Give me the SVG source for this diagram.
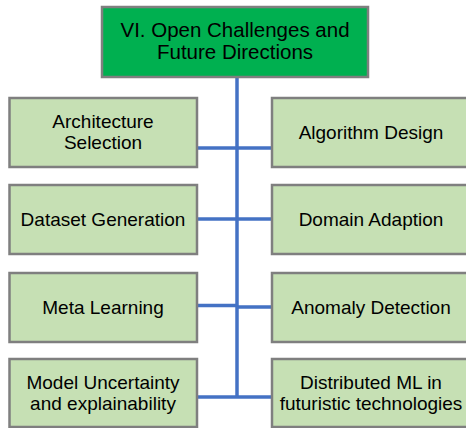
<svg xmlns="http://www.w3.org/2000/svg" width="466" height="428" viewBox="0 0 466 428">
<style>
.box{fill:#C6E0B4;stroke:#7F7F7F;stroke-width:2.5}
.top{fill:#00B050;stroke:#7F7F7F;stroke-width:2.5}
.t{font-family:"Liberation Sans",Arial,sans-serif;font-size:19px;fill:#000;text-anchor:middle}
.tt{font-family:"Liberation Sans",Arial,sans-serif;font-size:20.5px;fill:#000;text-anchor:middle}
.c{stroke:#4472C4;stroke-width:3.5;fill:none}
</style>
<rect width="466" height="428" fill="#fff"/>
<g id="connectors">
<path class="c" d="M237 77 V397"/>
<path class="c" d="M197 148 H272"/>
<path class="c" d="M197 219 H272"/>
<path class="c" d="M197 305.5 H237 M237 307 H272"/>
<path class="c" d="M197 397 H272"/>
</g>
<g id="root"><rect class="top" x="102" y="7" width="266" height="70"/>
<text class="tt" x="235" y="37">VI. Open Challenges and</text>
<text class="tt" x="235" y="59">Future Directions</text></g>
<g id="arch"><rect class="box" x="9.5" y="98" width="187.5" height="69"/>
<text class="t" x="103" y="128">Architecture</text><text class="t" x="103" y="149">Selection</text></g>
<g id="algo"><rect class="box" x="272" y="98" width="198" height="69"/>
<text class="t" x="371" y="139">Algorithm Design</text></g>
<g id="dataset"><rect class="box" x="9.5" y="185" width="187.5" height="69"/>
<text class="t" x="103" y="226">Dataset Generation</text></g>
<g id="domain"><rect class="box" x="272" y="185" width="198" height="69"/>
<text class="t" x="371" y="226">Domain Adaption</text></g>
<g id="meta"><rect class="box" x="9.5" y="273" width="187.5" height="69"/>
<text class="t" x="103" y="314">Meta Learning</text></g>
<g id="anomaly"><rect class="box" x="272" y="273" width="198" height="69"/>
<text class="t" x="371" y="314">Anomaly Detection</text></g>
<g id="model"><rect class="box" x="9.5" y="359" width="187.5" height="68"/>
<text class="t" x="103" y="389">Model Uncertainty</text><text class="t" x="103" y="410">and explainability</text></g>
<g id="distributed"><rect class="box" x="272" y="359" width="198" height="68"/>
<text class="t" x="371" y="389">Distributed ML in</text><text class="t" x="371" y="410">futuristic technologies</text></g>
</svg>
